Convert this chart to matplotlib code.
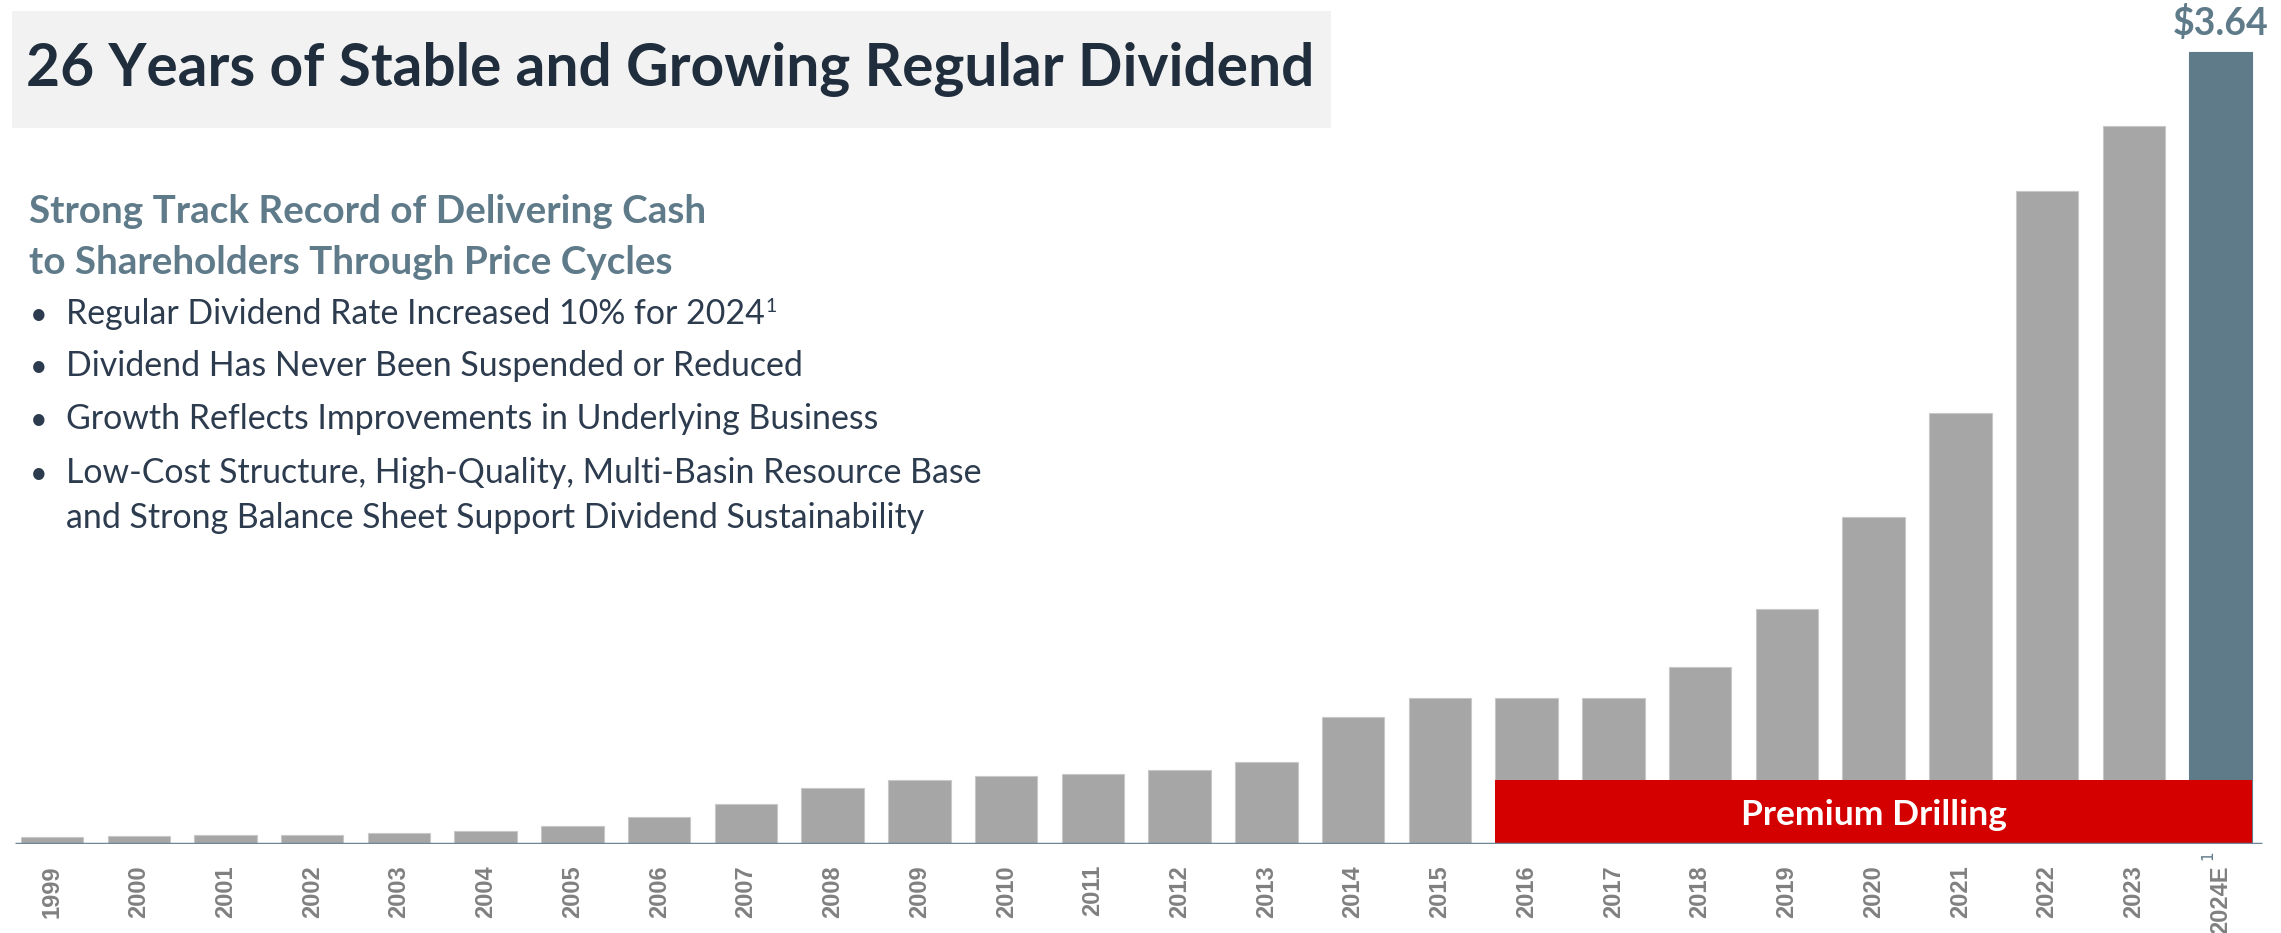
import matplotlib.pyplot as plt
from matplotlib.patches import Rectangle

# values
years = ['1999', '2000', '2001', '2002', '2003', '2004', '2005', '2006', '2007',
         '2008', '2009', '2010', '2011', '2012', '2013', '2014', '2015', '2016',
         '2017', '2018', '2019', '2020', '2021', '2022', '2023', '2024E']
dividends = [0.03, 0.036, 0.041, 0.041, 0.049, 0.057, 0.08, 0.12, 0.18,
             0.255, 0.29, 0.31, 0.32, 0.34, 0.375, 0.58, 0.67, 0.67,
             0.67, 0.81, 1.08, 1.50, 1.98, 3.00, 3.30, 3.64]
last_label = '$3.64'
premium_from = '2016'
premium_label = 'Premium Drilling'
premium_height = 0.29

title = '26 Years of Stable and Growing Regular Dividend'
subhead = ['Strong Track Record of Delivering Cash',
           'to Shareholders Through Price Cycles']
bullets = ['Regular Dividend Rate Increased 10% for 2024',
           'Dividend Has Never Been Suspended or Reduced',
           'Growth Reflects Improvements in Underlying Business',
           'Low-Cost Structure, High-Quality, Multi-Basin Resource Base']
bullet_cont = 'and Strong Balance Sheet Support Dividend Sustainability'

GREY = '#a6a6a6'
SLATE = '#5f7b8a'
NAVY = '#1f2d3d'
TEXT = '#2c3b4e'
RED = '#d40000'

W, H = 2281, 933
fig = plt.figure(figsize=(W / 100, H / 100), dpi=100)
fig.patch.set_facecolor('white')


def fx(x):
    return x / W


def fy(y):
    return 1 - y / H


base = 843.5       # pixel row of the zero line
ppu = 217.5        # pixels per dollar
step = 86.74       # pixels between bars
x0 = 52            # centre of first bar

ax = fig.add_axes([0, fy(base), 1, base / H])
ax.patch.set_visible(False)
ax.set_xlim(-x0 / step, (W - x0) / step)
ax.set_ylim(0, base / ppu)

n = len(years)
colors = [GREY] * (n - 1) + [SLATE]
edges = ['#c8c8c8'] * (n - 1) + [SLATE]
ax.bar(range(n), dividends, width=0.72, color=colors, edgecolor=edges,
       linewidth=0.8, zorder=2)

# premium drilling band
k = years.index(premium_from)
ax.add_patch(Rectangle((k - 0.36, 0), (n - 1 + 0.36) - (k - 0.36), premium_height,
                       facecolor=RED, edgecolor='none', zorder=3))
ax.text((k - 0.36 + n - 1 + 0.36) / 2, 0.083, premium_label, ha='center',
        va='baseline', fontsize=25.5, fontweight='bold', color='white',
        family='Lato', zorder=4)

ax.text(n - 1, dividends[-1] + 17 / ppu, last_label.replace('$', r'\$'),
        ha='center', va='baseline', fontsize=27, fontweight='bold',
        color=SLATE, family='Lato')

ax.hlines(0, (14.5 - x0) / step, (2262 - x0) / step, color='#6e8796',
          lw=2.5, zorder=5)

ax.set_xticks(range(n))
ax.set_xticklabels(years, rotation=90, fontsize=17, fontweight='bold',
                   color='#808080', family='Liberation Sans')
ax.tick_params(axis='x', length=0, pad=15.5)
ax.set_yticks([])
for s in ax.spines.values():
    s.set_visible(False)
ax.text((2208 - x0) / step, -0.055, '1', rotation=90, fontsize=11,
        color=SLATE, ha='center', va='center', clip_on=False)

# title box
fig.add_artist(Rectangle((fx(11.6), fy(127.6)), fx(1331 - 11.6), 116.6 / H,
                         transform=fig.transFigure, facecolor='#f2f2f2',
                         edgecolor='none', zorder=0))
fig.text(fx(26), fy(86), title, fontsize=42.2, fontweight='bold', color=NAVY,
         va='baseline', family='Lato')

for i, line in enumerate(subhead):
    fig.text(fx(28.7), fy(223.4 + 50.6 * i), line, fontsize=27.8,
             fontweight='bold', color=SLATE, va='baseline', family='Lato')

rows = [324, 376, 429, 483]
for r, b in zip(rows, bullets):
    fig.text(fx(30), fy(r), '\u2022', fontsize=22, color=TEXT, va='baseline',
             family='Lato')
    t = fig.text(fx(65.7), fy(r), b, fontsize=24.4, color=TEXT, va='baseline',
                 family='Lato')
    if r == rows[0]:
        fig.canvas.draw()
        bb = t.get_window_extent()
        fig.text(fx(bb.x1 + 1), fy(r - 12), '1', fontsize=14, color=TEXT,
                 va='baseline', family='Lato')
fig.text(fx(65.7), fy(527.6), bullet_cont, fontsize=24.4, color=TEXT,
         va='baseline', family='Lato')

fig.savefig('out.png', dpi=100)
